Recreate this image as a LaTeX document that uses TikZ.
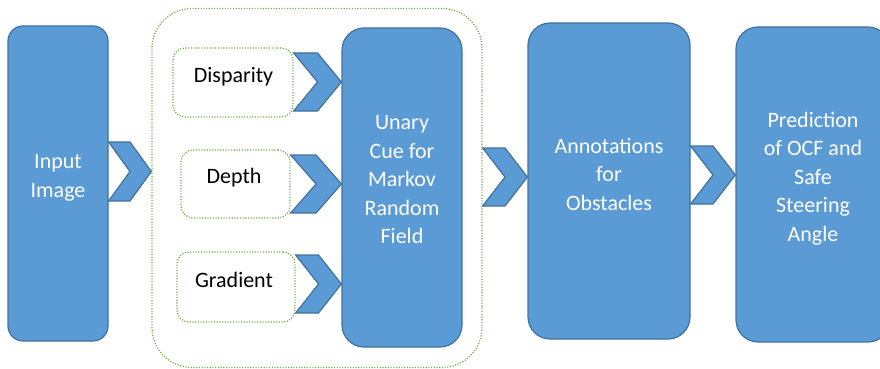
\documentclass[tikz,border=0pt]{standalone}
\usepackage{fontspec}
\setmainfont{Carlito}
\usetikzlibrary{calc}
\definecolor{boxfill}{HTML}{5B9BD5}
\definecolor{boxline}{HTML}{41719C}
\definecolor{grn}{HTML}{70AD47}
\tikzset{
  bluebox/.style={draw=boxline, fill=boxfill, line width=1.2pt, rounded corners=#1, inner sep=0pt},
  dotbox/.style={draw=grn, line width=1.3pt, dash pattern=on 1.1pt off 1.6pt, rounded corners=#1, inner sep=0pt},
  wtxt/.style={text=white, font=\fontsize{22}{28.5}\selectfont, align=center, inner sep=0pt},
  btxt/.style={text=black, font=\fontsize{22}{28.5}\selectfont, align=center, inner sep=0pt},
  chev/.style={draw=boxline, fill=boxfill, line width=1.2pt, line join=miter}
}
\newcommand\chevr[3]{%
  \draw[chev] let \p1=(#1), \p2=(#2), \p3=($(#1)!0.5!(#2)$) in
    (\x1,\y2+#3pt) -- (\x3,\y2+#3pt) -- (\x2,\y2) -- (\x3,\y2-#3pt) -- (\x1,\y2-#3pt) -- (\x3,\y2) -- cycle;}
\begin{document}
\begin{tikzpicture}[x=1pt,y=-1pt]
\useasboundingbox (0,0) rectangle (880,369);
\begin{scope}
\clip (0,0) rectangle (880,369);
% boxes
\node[bluebox=15pt, minimum width=100pt, minimum height=315pt] (in) at (58,183.5) {};
\node[dotbox=40pt, minimum width=330pt, minimum height=359pt] (grp) at (317,188) {};
\node[dotbox=12pt, minimum width=120pt, minimum height=69pt] (disp) at (233,82.5) {};
\node[dotbox=12pt, minimum width=109pt, minimum height=68pt] (dep) at (235.5,184) {};
\node[dotbox=12pt, minimum width=118pt, minimum height=70pt] (grad) at (236,287) {};
\node[bluebox=22pt, minimum width=120pt, minimum height=319pt] (mrf) at (402,187.5) {};
\node[bluebox=22pt, minimum width=162pt, minimum height=316pt] (ann) at (609,181) {};
\node[bluebox=22pt, minimum width=154pt, minimum height=315pt] (pred) at (813,184.5) {};
% texts
\node[wtxt] (tin) at (58,177.7) {Input\\Image};
\node[wtxt] (tmrf) at (402,180) {Unary\\Cue for\\Markov\\Random\\Field};
\node[wtxt] (tann) at (609,174) {Annotations\\for\\Obstacles};
\node[wtxt] (tpred) at (813,178.5) {Prediction\\of OCF and\\Safe\\Steering\\Angle};
\node[btxt] (tdisp) at (233.5,77) {Disparity};
\node[btxt] (tdep) at (234,178) {Depth};
\node[btxt] (tgrad) at (234,280) {Gradient};
% chevron connectors
\coordinate (m1) at (0,171.5);
\coordinate (m2) at (0,82);
\coordinate (m3) at (0,184);
\coordinate (m4) at (0,284);
\coordinate (m5) at (0,177);
\coordinate (m6) at (0,175);
\chevr{in.east |- m1}{grp.west |- m1}{29.5}
\chevr{disp.east |- m2}{mrf.west |- m2}{29}
\chevr{dep.east |- m3}{mrf.west |- m3}{29}
\chevr{grad.east |- m4}{mrf.west |- m4}{29}
\chevr{grp.east |- m5}{ann.west |- m5}{29}
\chevr{ann.east |- m6}{pred.west |- m6}{29}
\end{scope}
\end{tikzpicture}
\end{document}
